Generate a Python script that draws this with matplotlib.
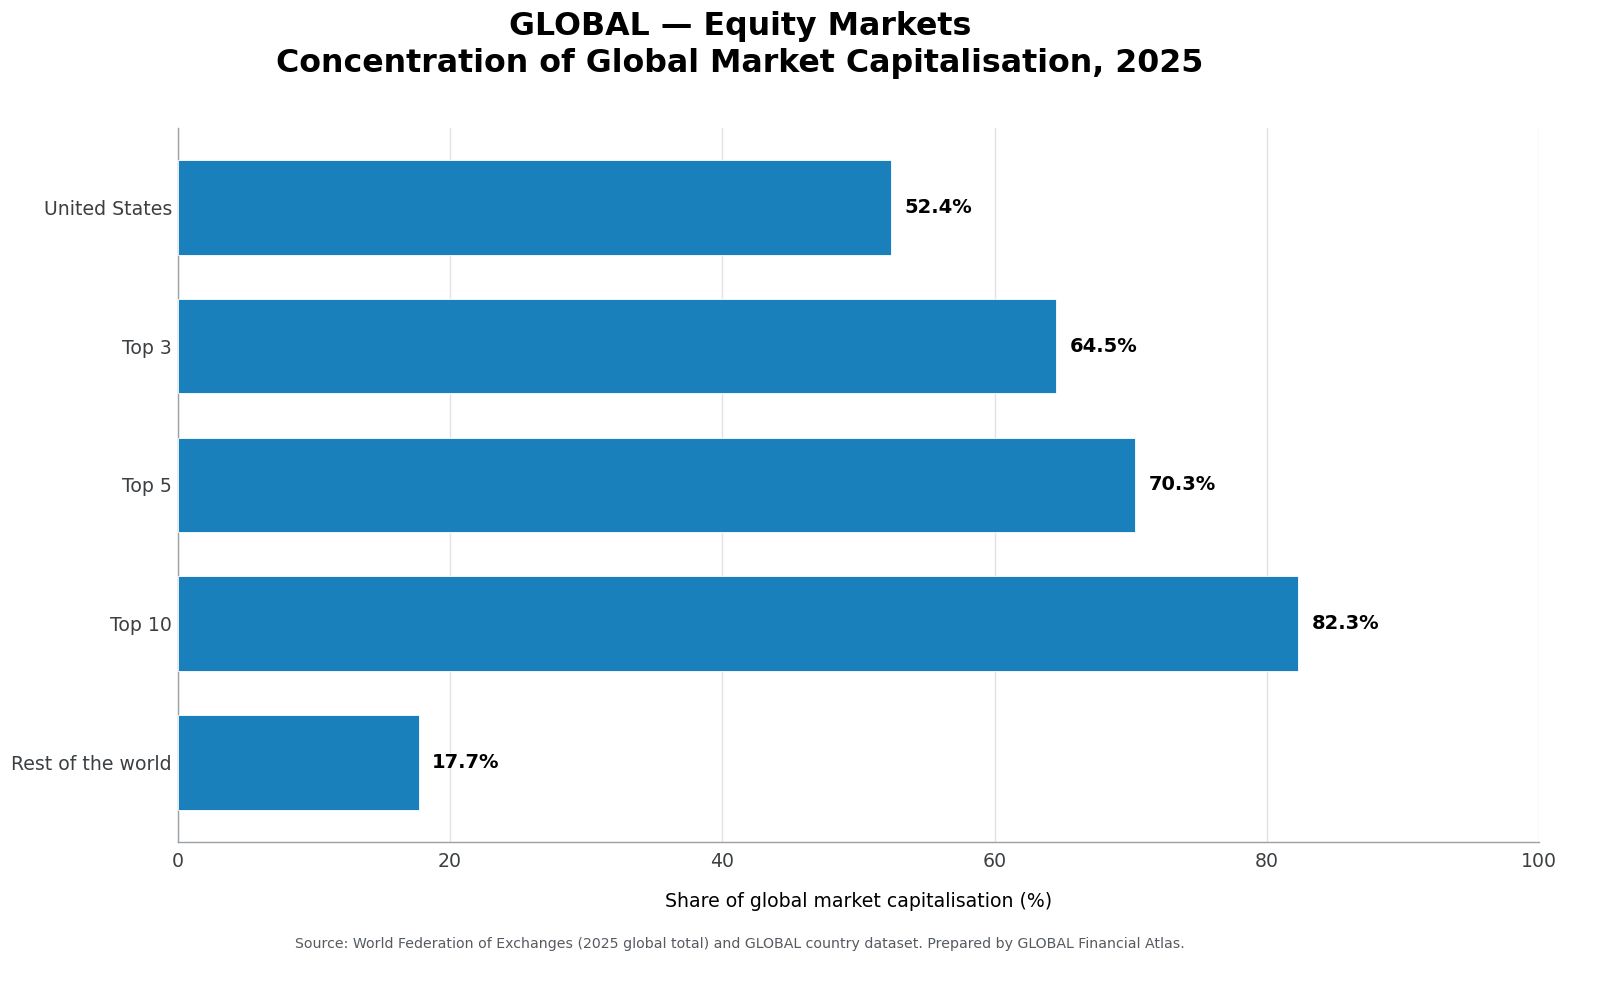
import matplotlib
matplotlib.use("Agg")
import matplotlib.pyplot as plt

# data
categories = ["United States", "Top 3", "Top 5", "Top 10", "Rest of the world"]
shares = [52.4, 64.5, 70.3, 82.3, 17.7]

bar_color = "#1980bc"

fig = plt.figure(figsize=(16, 9.83), dpi=100)
ax = fig.add_axes([0.111, 0.1434, 0.851, 0.7266])

ypos = list(range(len(categories)))
ax.barh(ypos, shares, height=0.68, color=bar_color, edgecolor="white",
        linewidth=0.6, zorder=3)
ax.set_yticks(ypos)
ax.set_yticklabels(categories)
ax.invert_yaxis()
ax.set_xlim(0, 100)

for y, v in zip(ypos, shares):
    ax.text(v + 1.0, y, f"{v:.1f}%", va="center", ha="left",
            fontsize=14, fontweight="bold", color="black")

ax.grid(axis="x", color="#e3e3e3", linewidth=1, zorder=0)
ax.set_axisbelow(True)
for s in ["top", "right"]:
    ax.spines[s].set_visible(False)
for s in ["left", "bottom"]:
    ax.spines[s].set_color("#9aa0a6")
    ax.spines[s].set_linewidth(1)
ax.tick_params(axis="both", length=0, labelsize=13.6, labelcolor="#3c4043")
ax.tick_params(axis="x", pad=7)
ax.tick_params(axis="y", pad=4)

ax.set_xlabel("Share of global market capitalisation (%)", fontsize=13.6,
              labelpad=15, color="black")

fig.suptitle("GLOBAL — Equity Markets\nConcentration of Global Market Capitalisation, 2025",
             x=0.4625, y=0.989, fontsize=22.8, fontweight="bold", va="top",
             linespacing=1.25)
fig.text(0.4625, 0.04, "Source: World Federation of Exchanges (2025 global total) and "
         "GLOBAL country dataset. Prepared by GLOBAL Financial Atlas.",
         ha="center", va="center", fontsize=10.2, color="#555b61")

fig.savefig("out.png", dpi=100)
